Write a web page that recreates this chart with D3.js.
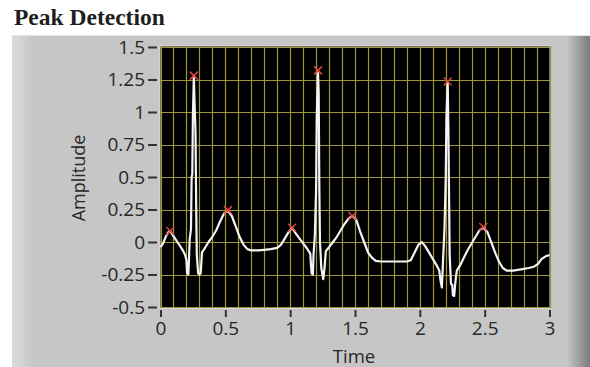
<!DOCTYPE html>
<html>
<head>
<meta charset="utf-8">
<script src="https://cdn.jsdelivr.net/npm/d3@7"></script>
<style>
  body { margin: 0; background: #fff; }
  svg { display: block; }
</style>
</head>
<body>
<svg id="chart" width="590" height="367"></svg>
<script>
// signal (time in s, amplitude)
const time = [0.00,0.02,0.04,0.06,0.075,0.09,0.11,0.13,0.15,0.17,0.19,0.20,0.205,0.215,0.22,0.225,0.235,0.24,0.245,0.25,0.257,0.262,0.27,0.275,0.28,0.29,0.30,0.31,0.32,0.34,0.37,0.40,0.43,0.46,0.49,0.52,0.55,0.58,0.61,0.64,0.67,0.70,0.75,0.80,0.85,0.90,0.93,0.96,0.99,1.015,
  1.04,1.07,1.10,1.13,1.155,1.165,1.175,1.18,1.19,1.20,1.205,1.215,1.22,1.225,1.23,1.24,1.255,1.265,1.275,1.30,1.33,1.36,1.39,1.42,1.45,1.48,1.51,1.54,1.57,1.60,1.63,1.66,1.70,1.80,1.90,1.93,1.96,1.99,2.015,
  2.04,2.07,2.10,2.13,2.15,2.16,2.17,2.18,2.19,2.20,2.205,2.215,2.22,2.225,2.23,2.24,2.25,2.255,2.265,2.275,2.285,2.31,2.34,2.37,2.40,2.43,2.46,2.49,2.52,2.55,2.58,2.61,2.64,2.67,2.72,2.78,2.84,2.88,2.91,2.94,2.97,3.00];
const amplitude = [-0.04,-0.01,0.04,0.075,0.085,0.06,0.03,0.0,-0.03,-0.06,-0.10,-0.14,-0.24,-0.25,-0.12,0.02,0.10,0.50,0.52,0.98,1.27,1.10,0.84,0.30,-0.10,-0.24,-0.25,-0.24,-0.08,-0.05,0.0,0.04,0.09,0.16,0.22,0.24,0.20,0.12,0.04,-0.02,-0.055,-0.065,-0.065,-0.06,-0.055,-0.045,-0.02,0.03,0.08,0.11,
  0.07,0.03,-0.01,-0.05,-0.09,-0.24,-0.25,-0.10,0.05,0.40,0.96,1.30,1.15,0.41,0.0,-0.20,-0.285,-0.20,-0.07,-0.04,0.0,0.04,0.09,0.14,0.18,0.20,0.17,0.08,0.0,-0.08,-0.12,-0.145,-0.15,-0.15,-0.15,-0.14,-0.08,-0.02,0.0,
  -0.03,-0.08,-0.13,-0.18,-0.22,-0.30,-0.35,-0.12,0.10,0.50,0.96,1.23,0.88,0.40,-0.10,-0.32,-0.33,-0.41,-0.415,-0.30,-0.22,-0.18,-0.12,-0.06,-0.01,0.04,0.09,0.11,0.08,0.0,-0.08,-0.15,-0.20,-0.22,-0.22,-0.21,-0.20,-0.19,-0.17,-0.13,-0.11,-0.10];

// detected peaks
const peakTime = [0.075, 0.257, 0.52, 1.015, 1.215, 1.48, 2.215, 2.49];
const peakAmp = [0.085, 1.28, 0.245, 0.11, 1.32, 0.2, 1.235, 0.115];

const yTicks = [1.5, 1.25, 1, 0.75, 0.5, 0.25, 0, -0.25, -0.5];
const yTickLabels = ['1.5', '1.25', '1', '0.75', '0.5', '0.25', '0', '-0.25', '-0.5'];
const xTicks = [0, 0.5, 1, 1.5, 2, 2.5, 3];
const xTickLabels = ['0', '0.5', '1', '1.5', '2', '2.5', '3'];

const svg = d3.select('#chart');
const plot = { left: 160, right: 550, top: 46, bottom: 308 };

const x = d3.scaleLinear().domain([0, 3]).range([160.5, 549.5]);
const y = d3.scaleLinear().domain([-0.5, 1.5]).range([307, 47]);

// panel
const defs = svg.append('defs');
const gl = defs.append('linearGradient').attr('id', 'leftEdge');
gl.append('stop').attr('offset', '0%').attr('stop-color', '#dcdcdc');
gl.append('stop').attr('offset', '100%').attr('stop-color', '#c6c6c6');
const gr = defs.append('linearGradient').attr('id', 'rightEdge');
gr.append('stop').attr('offset', '0%').attr('stop-color', '#c4c4c4');
gr.append('stop').attr('offset', '100%').attr('stop-color', '#7c7c7c');

svg.append('rect').attr('x', 12).attr('y', 35).attr('width', 578).attr('height', 332).attr('fill', '#c6c6c6');
svg.append('rect').attr('x', 12).attr('y', 35).attr('width', 22).attr('height', 332).attr('fill', 'url(#leftEdge)');
svg.append('rect').attr('x', 567).attr('y', 35).attr('width', 23).attr('height', 332).attr('fill', 'url(#rightEdge)');
svg.append('line').attr('x1', 12).attr('x2', 590).attr('y1', 35.5).attr('y2', 35.5).attr('stroke', '#e4e4e4');

svg.append('text')
  .attr('x', 14).attr('y', 25)
  .attr('font-family', 'Liberation Serif, serif')
  .attr('font-weight', 'bold')
  .attr('font-size', 23.5)
  .attr('fill', '#1e1e1e')
  .text('Peak Detection');

// plot area
svg.append('rect')
  .attr('x', plot.left).attr('y', plot.top)
  .attr('width', plot.right - plot.left).attr('height', plot.bottom - plot.top)
  .attr('fill', '#000').attr('stroke', '#e0e0e0').attr('stroke-width', 1);

const gridColor = '#9c973a';
const grid = svg.append('g');
grid.selectAll('.vg')
  .data(d3.range(0, 31).map(i => i / 10))
  .enter().append('line')
  .attr('x1', d => Math.round(x(d)) + 0.5).attr('x2', d => Math.round(x(d)) + 0.5)
  .attr('y1', plot.top).attr('y2', plot.bottom)
  .attr('stroke', gridColor).attr('stroke-width', 1.2);
grid.selectAll('.hg')
  .data(yTicks)
  .enter().append('line')
  .attr('x1', plot.left).attr('x2', plot.right)
  .attr('y1', d => Math.round(y(d)) + 0.5).attr('y2', d => Math.round(y(d)) + 0.5)
  .attr('stroke', gridColor).attr('stroke-width', 1.2);

// axes
const fontFam = 'Open Sans, Noto Sans, sans-serif';
const yAxis = svg.append('g')
  .attr('transform', 'translate(157,0)')
  .call(d3.axisLeft(y).tickValues(yTicks).tickFormat((d, i) => yTickLabels[i]).tickSize(9).tickPadding(3));
const xAxis = svg.append('g')
  .attr('transform', 'translate(0,310)')
  .call(d3.axisBottom(x).tickValues(xTicks).tickFormat((d, i) => xTickLabels[i]).tickSize(7).tickPadding(5));
[yAxis, xAxis].forEach(a => {
  a.select('.domain').remove();
  a.selectAll('line').attr('stroke', '#333').attr('stroke-width', 2);
  a.selectAll('text').attr('fill', '#262626').attr('font-family', fontFam).attr('font-size', 19);
});
yAxis.selectAll('line').attr('x1', 0).attr('x2', -9);

svg.append('text')
  .attr('x', 354).attr('y', 363)
  .attr('text-anchor', 'middle')
  .attr('font-family', fontFam).attr('font-size', 18.5).attr('fill', '#262626')
  .text('Time');
svg.append('text')
  .attr('transform', 'translate(85,178) rotate(-90)')
  .attr('text-anchor', 'middle')
  .attr('font-family', fontFam).attr('font-size', 18).attr('fill', '#262626')
  .text('Amplitude');

// signal
const line = d3.line().x((d, i) => x(time[i])).y(d => y(d));
svg.append('path')
  .datum(amplitude)
  .attr('d', line)
  .attr('fill', 'none')
  .attr('stroke', '#f4f4f4')
  .attr('stroke-width', 2.2)
  .attr('stroke-linejoin', 'round');

// peak markers (thin red x)
svg.selectAll('.pk')
  .data(peakTime)
  .enter().append('path')
  .attr('d', 'M-4,-4L4,4M-4,4L4,-4')
  .attr('transform', (d, i) => `translate(${x(d)},${y(peakAmp[i])})`)
  .attr('stroke', '#e0443c')
  .attr('stroke-width', 1.5)
  .attr('fill', 'none');
</script>
</body>
</html>
